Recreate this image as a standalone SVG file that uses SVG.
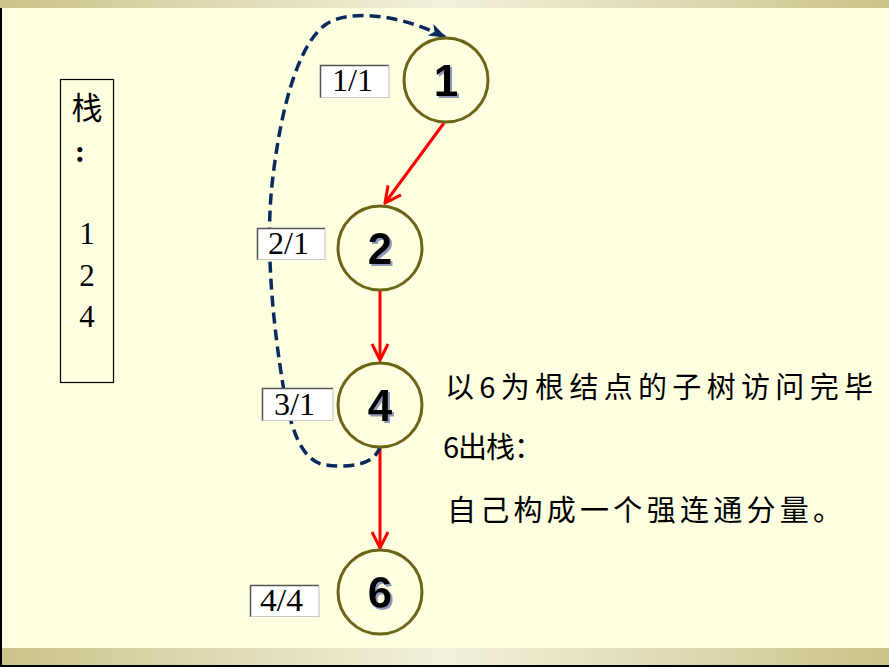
<svg xmlns="http://www.w3.org/2000/svg" width="889" height="667" viewBox="0 0 889 667">
<defs>
<linearGradient id="bar" x1="0" y1="0" x2="1" y2="0">
<stop offset="0" stop-color="#cbc38a"/>
<stop offset="0.5" stop-color="#f3f1dc"/>
<stop offset="1" stop-color="#cbc38a"/>
</linearGradient>
<filter id="shadow" x="-20%" y="-20%" width="150%" height="150%">
<feDropShadow dx="2" dy="2" stdDeviation="0.6" flood-color="#8f9ab8" flood-opacity="1"/>
</filter>
<marker id="vh" viewBox="0 0 20 20" refX="18" refY="10" markerWidth="20" markerHeight="20" markerUnits="userSpaceOnUse" orient="auto">
<path d="M2,2 L18,10 L2,18" fill="none" stroke="#ff0000" stroke-width="3"/>
</marker>
<marker id="nh" viewBox="0 0 20 20" refX="18" refY="10" markerWidth="18" markerHeight="18" markerUnits="userSpaceOnUse" orient="auto">
<path d="M0,3 L20,10 L0,17 L5,10 Z" fill="#0a2a5c"/>
</marker>
<style>
.node circle{fill:none;stroke:#6e6418;stroke-width:3}
.num{font-family:"Liberation Sans",Arial,sans-serif;font-weight:bold;font-size:44px;text-anchor:middle;fill:#000;filter:url(#shadow)}
.lab rect{fill:#ffffff}
.lab text{font-family:"Liberation Serif","Times New Roman",serif;font-size:31px;fill:#000}
.edge{stroke:#ff0000;stroke-width:3;fill:none;marker-end:url(#vh)}
.cjk{font-family:"Noto Sans CJK SC",sans-serif;font-size:29px;fill:#000}
.stk{font-family:"Liberation Serif","Noto Sans CJK SC",serif;font-size:31px;fill:#000;text-anchor:middle}
</style>
</defs>
<rect x="0" y="0" width="889" height="667" fill="#fefee0"/>
<rect x="0" y="0" width="889" height="8" fill="url(#bar)"/>
<rect x="0" y="648" width="889" height="17" fill="url(#bar)"/>
<rect x="0" y="665" width="889" height="2" fill="#000"/>
<rect x="0" y="8" width="2" height="659" fill="#000"/>

<g id="stack">
<rect x="60.5" y="79.5" width="53" height="303" fill="none" stroke="#000" stroke-width="1.2"/>
<text class="stk" x="87" y="119" font-family="Noto Sans CJK SC" font-size="29">栈</text>
<text class="stk" x="80" y="162" font-weight="bold" font-size="28">:</text>
<text class="stk" x="87" y="244">1</text>
<text class="stk" x="87" y="286">2</text>
<text class="stk" x="87" y="327">4</text>
</g>

<g id="connectors">
<line class="edge" x1="444" y1="123" x2="385" y2="203"/>
<line class="edge" x1="380" y1="291" x2="380" y2="360"/>
<line class="edge" x1="380" y1="448" x2="380" y2="548"/>
<path d="M380,446 C376,466 345,468 326,465 C300,462 290,425 283,385 C274,330 265,250 272,185 C280,110 298,45 325,25 C345,10 395,12 445,37" fill="none" stroke="#0a2a5c" stroke-width="3.5" stroke-dasharray="11,6" marker-end="url(#nh)"/>
</g>

<g id="node1" class="node">
<circle cx="446" cy="80" r="42"/>
<text class="num" x="446" y="96">1</text>
</g>
<g id="node2" class="node">
<circle cx="380" cy="248" r="42"/>
<text class="num" x="380" y="264">2</text>
</g>
<g id="node4" class="node">
<circle cx="380" cy="405" r="42"/>
<text class="num" x="380" y="421">4</text>
</g>
<g id="node6" class="node">
<circle cx="380" cy="592" r="42"/>
<text class="num" x="380" y="608">6</text>
</g>

<g id="label1" class="lab">
<rect x="320" y="65" width="69" height="33"/>
<path d="M320.5,98 V65.5 H389" fill="none" stroke="#555" stroke-width="1.5"/>
<path d="M389,65.5 V97.5 H320.5" fill="none" stroke="#c8c8c8" stroke-width="1.2"/>
<text x="332" y="91" textLength="41" lengthAdjust="spacingAndGlyphs">1/1</text>
</g>
<g id="label2" class="lab">
<rect x="257" y="228" width="68" height="32"/>
<path d="M257.5,260 V228.5 H325" fill="none" stroke="#555" stroke-width="1.5"/>
<path d="M325,228.5 V259.5 H257.5" fill="none" stroke="#c8c8c8" stroke-width="1.2"/>
<text x="268" y="254" textLength="41" lengthAdjust="spacingAndGlyphs">2/1</text>
</g>
<g id="label3" class="lab">
<rect x="262" y="388" width="71" height="33"/>
<path d="M262.5,421 V388.5 H333" fill="none" stroke="#555" stroke-width="1.5"/>
<path d="M333,388.5 V420.5 H262.5" fill="none" stroke="#c8c8c8" stroke-width="1.2"/>
<text x="274" y="415" textLength="41" lengthAdjust="spacingAndGlyphs">3/1</text>
</g>
<g id="label4" class="lab">
<rect x="250" y="585" width="69" height="32"/>
<path d="M250.5,617 V585.5 H319" fill="none" stroke="#555" stroke-width="1.5"/>
<path d="M319,585.5 V616.5 H250.5" fill="none" stroke="#c8c8c8" stroke-width="1.2"/>
<text x="260" y="611" textLength="43" lengthAdjust="spacingAndGlyphs">4/4</text>
</g>

<g id="note">
<text class="cjk" x="445" y="398" textLength="428" lengthAdjust="spacing">以6为根结点的子树访问完毕</text>
<text class="cjk" x="443" y="458" textLength="100" lengthAdjust="spacing">6出栈：</text>
<text class="cjk" x="447" y="521" textLength="395" lengthAdjust="spacing">自己构成一个强连通分量。</text>
</g>
</svg>
